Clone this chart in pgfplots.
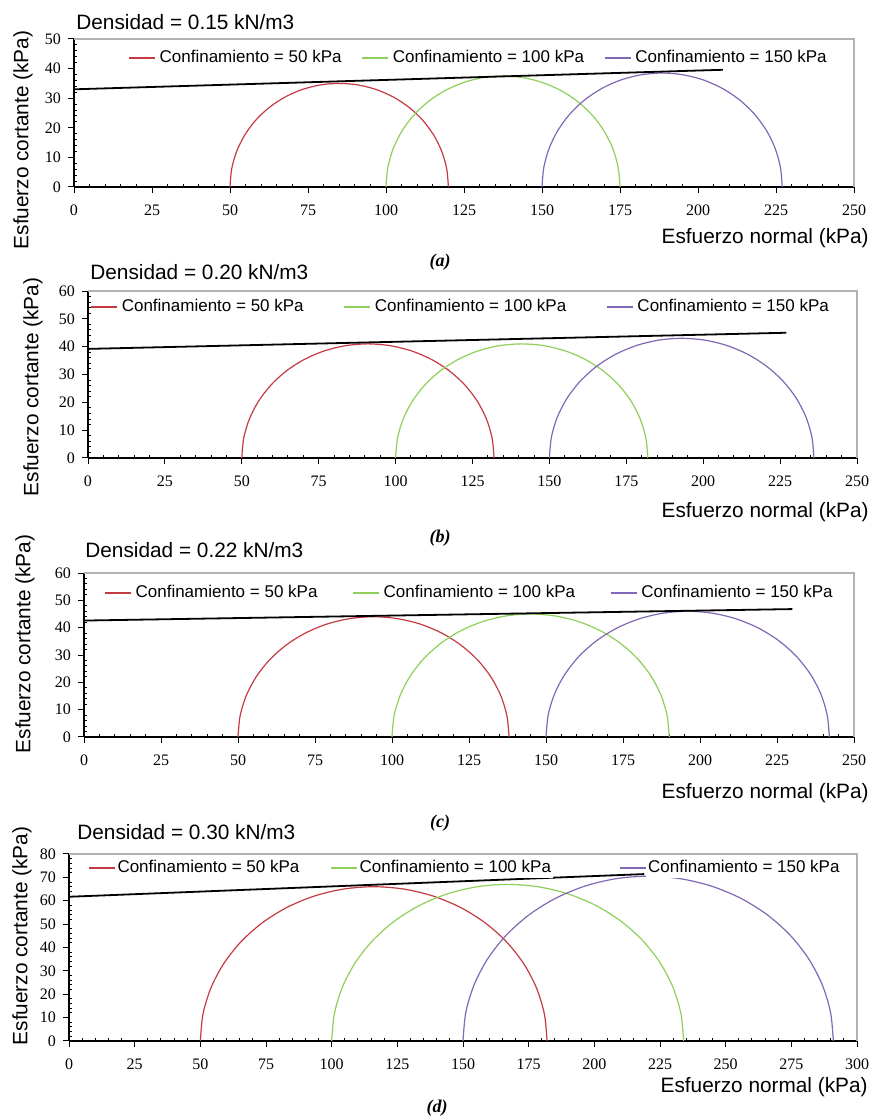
\documentclass[border=0pt]{standalone}
\usepackage{fontspec}
\setmainfont{Liberation Sans}
\newfontfamily\tnr{Liberation Serif}
\usepackage{pgfplots}
\pgfplotsset{compat=1.18}
\definecolor{cred}{HTML}{C43A42}
\definecolor{cgreen}{HTML}{8ED05A}
\definecolor{cpurple}{HTML}{8168B6}
\pgfplotsset{mohr/.style={
  scale only axis, anchor=south west,
  axis x line*=bottom, axis y line*=left,
  axis line style={-, black, line width=0.8pt},
  xmin=0, ymin=0,
  xtick distance=25, ytick distance=10,
  minor x tick num=4, minor y tick num=4,
  tick align=outside, major tick length=3pt, minor tick length=-1.5pt,
  tick style={black, line width=0.5pt},
  tick label style={font=\tnr\fontsize{8}{9}\selectfont},
  xticklabel style={yshift=-2.5pt},
  /pgf/number format/assume math mode=true,
  legend columns=3,
  legend style={draw=none, fill=none, font=\fontsize{8.5}{10}\selectfont, anchor=center, inner sep=0pt},
  legend image code/.code={\draw[##1] (0pt,0pt) -- (13pt,0pt);},
  every axis plot/.append style={line width=0.6pt},
  after end axis/.code={\draw[gray!60, line width=0.6pt] (rel axis cs:0,1) -- (rel axis cs:1,1) -- (rel axis cs:1,0);},
}}
\newcommand{\lbl}{\fontsize{10.4}{12}\selectfont}
\begin{document}
\begin{tikzpicture}
\useasboundingbox (0,0) rectangle (436.5pt,560pt);
% ---------------- (a)
\begin{axis}[mohr, at={(37pt,466.5pt)}, width=390pt, height=74pt, xmax=250, ymax=50,
  legend style={at={(0.52,0.872)}, /tikz/every even column/.append style={column sep=8pt}}]
\addplot[cred, smooth] coordinates {(50,0) (50.53,6.08) (52.11,11.97) (54.69,17.5) (58.19,22.50) (62.50,26.81) (67.5,30.31) (73.03,32.89) (78.92,34.47) (85,35) (91.08,34.47) (96.97,32.89) (102.5,30.31) (107.50,26.81) (111.81,22.50) (115.31,17.5) (117.89,11.97) (119.47,6.08) (120,0)};
\addlegendentry{Confinamiento = 50 kPa}
\addplot[cgreen, smooth] coordinates {(100,0) (100.57,6.51) (102.26,12.83) (105.02,18.75) (108.77,24.11) (113.39,28.73) (118.75,32.48) (124.67,35.24) (130.99,36.93) (137.5,37.5) (144.01,36.93) (150.33,35.24) (156.25,32.48) (161.61,28.73) (166.23,24.11) (169.98,18.75) (172.74,12.83) (174.43,6.51) (175,0)};
\addlegendentry{Confinamiento = 100 kPa}
\addplot[cpurple, smooth] coordinates {(150,0) (150.59,6.68) (152.32,13.17) (155.16,19.25) (159.01,24.75) (163.75,29.49) (169.25,33.34) (175.33,36.18) (181.82,37.91) (188.5,38.5) (195.18,37.91) (201.67,36.18) (207.75,33.34) (213.25,29.49) (217.99,24.75) (221.84,19.25) (224.68,13.17) (226.41,6.68) (227,0)};
\addlegendentry{Confinamiento = 150 kPa}
\addplot[black, line width=0.9pt, forget plot] coordinates {(0,33) (208,39.6)};
\end{axis}
% ---------------- (b)
\begin{axis}[mohr, at={(44pt,331pt)}, width=384.5pt, height=83.5pt, xmax=250, ymax=60,
  legend style={at={(0.486,0.904)}, /tikz/every even column/.append style={column sep=18pt}}]
\addplot[cred, smooth] coordinates {(50,0) (50.62,7.12) (52.47,14.02) (55.49,20.5) (59.59,26.35) (64.65,31.41) (70.5,35.51) (76.98,38.53) (83.88,40.38) (91,41) (98.12,40.38) (105.02,38.53) (111.5,35.51) (117.35,31.41) (122.41,26.35) (126.51,20.5) (129.53,14.02) (131.38,7.12) (132,0)};
\addlegendentry{Confinamiento = 50 kPa}
\addplot[cgreen, smooth] coordinates {(100,0) (100.62,7.12) (102.47,14.02) (105.49,20.5) (109.59,26.35) (114.65,31.41) (120.5,35.51) (126.98,38.53) (133.88,40.38) (141,41) (148.12,40.38) (155.02,38.53) (161.5,35.51) (167.35,31.41) (172.41,26.35) (176.51,20.5) (179.53,14.02) (181.38,7.12) (182,0)};
\addlegendentry{Confinamiento = 100 kPa}
\addplot[cpurple, smooth] coordinates {(150,0) (150.65,7.46) (152.59,14.71) (155.76,21.5) (160.06,27.64) (165.36,32.94) (171.5,37.24) (178.29,40.41) (185.54,42.35) (193,43) (200.46,42.35) (207.71,40.41) (214.5,37.24) (220.64,32.94) (225.94,27.64) (230.24,21.5) (233.41,14.71) (235.35,7.46) (236,0)};
\addlegendentry{Confinamiento = 150 kPa}
\addplot[black, line width=0.9pt, forget plot] coordinates {(0,39.2) (227,45)};
\end{axis}
% ---------------- (c)
\begin{axis}[mohr, at={(42pt,191.5pt)}, width=385pt, height=82pt, xmax=250, ymax=60,
  legend style={at={(0.502,0.878)}, /tikz/every even column/.append style={column sep=15.5pt}}]
\addplot[cred, smooth] coordinates {(50,0) (50.67,7.64) (52.65,15.05) (55.90,22) (60.30,28.28) (65.72,33.70) (72,38.10) (78.95,41.35) (86.36,43.33) (94,44) (101.64,43.33) (109.05,41.35) (116,38.10) (122.28,33.70) (127.70,28.28) (132.10,22) (135.35,15.05) (137.33,7.64) (138,0)};
\addlegendentry{Confinamiento = 50 kPa}
\addplot[cgreen, smooth] coordinates {(100,0) (100.68,7.81) (102.71,15.39) (106.03,22.5) (110.53,28.93) (116.07,34.47) (122.5,38.97) (129.61,42.29) (137.19,44.32) (145,45) (152.81,44.32) (160.39,42.29) (167.5,38.97) (173.93,34.47) (179.47,28.93) (183.97,22.5) (187.29,15.39) (189.32,7.81) (190,0)};
\addlegendentry{Confinamiento = 100 kPa}
\addplot[cpurple, smooth] coordinates {(150,0) (150.70,7.99) (152.77,15.73) (156.16,23) (160.76,29.57) (166.43,35.24) (173,39.84) (180.27,43.23) (188.01,45.30) (196,46) (203.99,45.30) (211.73,43.23) (219,39.84) (225.57,35.24) (231.24,29.57) (235.84,23) (239.23,15.73) (241.30,7.99) (242,0)};
\addlegendentry{Confinamiento = 150 kPa}
\addplot[black, line width=0.9pt, forget plot] coordinates {(0,42.6) (230,46.8)};
\end{axis}
% ---------------- (d)
\begin{axis}[mohr, at={(34.5pt,39.5pt)}, width=394pt, height=93.5pt, xmax=300, ymax=80,
  legend style={at={(0.024,0.925)}, anchor=west, nodes={fill=white, inner sep=1pt},
    /tikz/column 2/.style={column sep=14.5pt}, /tikz/column 4/.style={column sep=33pt}}]
\addplot[cred, smooth] coordinates {(50,0) (51.00,11.46) (53.98,22.57) (58.84,33) (65.44,42.42) (73.58,50.56) (83,57.16) (93.43,62.02) (104.54,65.00) (116,66) (127.46,65.00) (138.57,62.02) (149,57.16) (158.42,50.56) (166.56,42.42) (173.16,33) (178.02,22.57) (181.00,11.46) (182,0)};
\addlegendentry{Confinamiento = 50 kPa}
\addplot[cgreen, smooth] coordinates {(100,0) (101.02,11.63) (104.04,22.91) (108.98,33.5) (115.68,43.07) (123.93,51.32) (133.5,58.02) (144.09,62.96) (155.37,65.98) (167,67) (178.63,65.98) (189.91,62.96) (200.5,58.02) (210.07,51.32) (218.32,43.07) (225.02,33.5) (229.96,22.91) (232.98,11.63) (234,0)};
\addlegendentry{Confinamiento = 100 kPa}
\addplot[cpurple, smooth] coordinates {(150,0) (151.07,12.24) (154.25,24.11) (159.45,35.25) (166.50,45.32) (175.18,54.00) (185.25,61.05) (196.39,66.25) (208.26,69.43) (220.5,70.5) (232.74,69.43) (244.61,66.25) (255.75,61.05) (265.82,54.00) (274.50,45.32) (281.55,35.25) (286.75,24.11) (289.93,12.24) (291,0)};
\addlegendentry{Confinamiento = 150 kPa}
\addplot[black, line width=0.9pt, forget plot] coordinates {(0,61.7) (219,71.4)};
\end{axis}
% ---------------- texts
\node[anchor=west, inner sep=0pt, font=\lbl] at (38pt,549pt) {Densidad = 0.15 kN/m3};
\node[anchor=west, inner sep=0pt, font=\lbl] at (45pt,424pt) {Densidad = 0.20 kN/m3};
\node[anchor=west, inner sep=0pt, font=\lbl] at (42.5pt,285pt) {Densidad = 0.22 kN/m3};
\node[anchor=west, inner sep=0pt, font=\lbl] at (38.5pt,144pt) {Densidad = 0.30 kN/m3};
\node[rotate=90, inner sep=0pt, font=\lbl] at (11.5pt,490pt) {Esfuerzo cortante (kPa)};
\node[rotate=90, inner sep=0pt, font=\lbl] at (16.5pt,366.5pt) {Esfuerzo cortante (kPa)};
\node[rotate=90, inner sep=0pt, font=\lbl] at (12.5pt,238pt) {Esfuerzo cortante (kPa)};
\node[rotate=90, inner sep=0pt, font=\lbl] at (11pt,92pt) {Esfuerzo cortante (kPa)};
\node[anchor=east, inner sep=0pt, font=\lbl] at (434.5pt,441pt) {Esfuerzo normal (kPa)};
\node[anchor=east, inner sep=0pt, font=\lbl] at (434.5pt,304pt) {Esfuerzo normal (kPa)};
\node[anchor=east, inner sep=0pt, font=\lbl] at (434.5pt,163.5pt) {Esfuerzo normal (kPa)};
\node[anchor=east, inner sep=0pt, font=\lbl] at (434pt,16.5pt) {Esfuerzo normal (kPa)};
\node[inner sep=0pt, font=\tnr\bfseries\itshape\fontsize{9}{10}\selectfont] at (220pt,429pt) {(a)};
\node[inner sep=0pt, font=\tnr\bfseries\itshape\fontsize{9}{10}\selectfont] at (220pt,291pt) {(b)};
\node[inner sep=0pt, font=\tnr\bfseries\itshape\fontsize{9}{10}\selectfont] at (220pt,148.5pt) {(c)};
\node[inner sep=0pt, font=\tnr\bfseries\itshape\fontsize{9}{10}\selectfont] at (218.5pt,6pt) {(d)};
\end{tikzpicture}
\end{document}
